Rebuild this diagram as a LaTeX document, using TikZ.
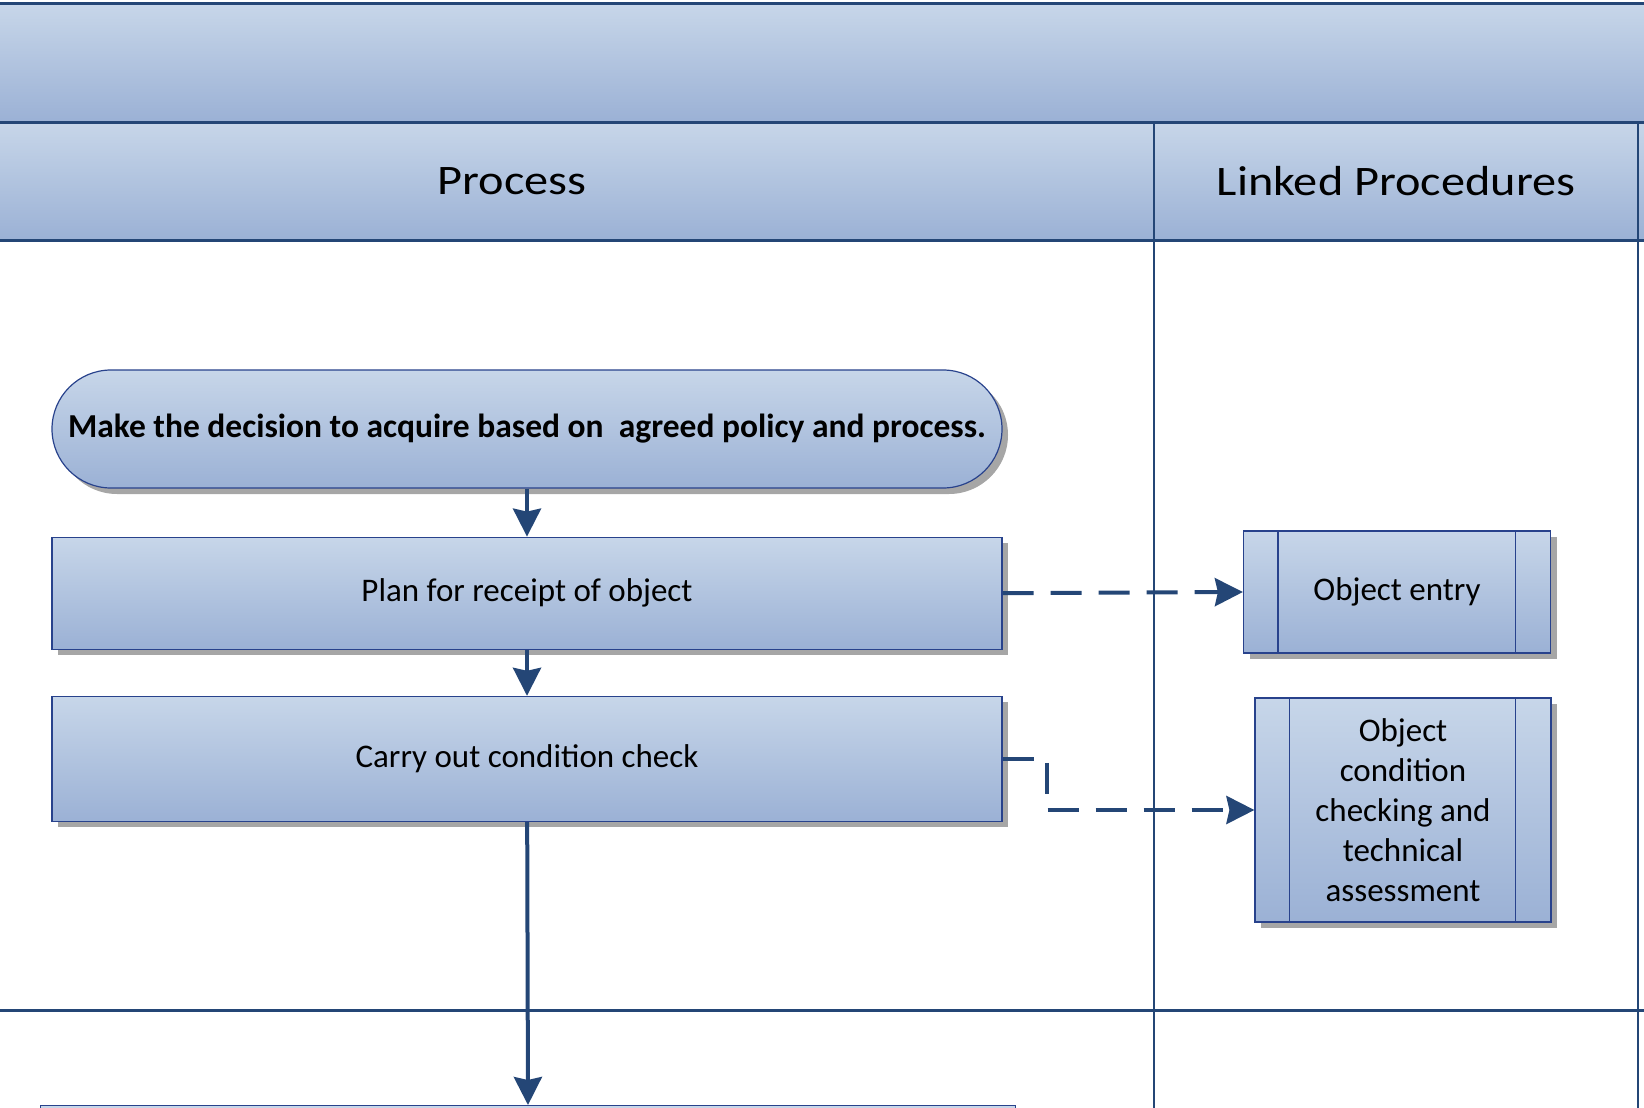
\documentclass[tikz,border=0pt]{standalone}
\usepackage{fontspec}
\setmainfont{Carlito}
\newfontfamily\hdfont[FakeStretch=1.15]{Carlito}
\usepackage{tikz}
\usetikzlibrary{positioning, arrows.meta, shadows}
\definecolor{lanecol}{RGB}{36,70,118}
\definecolor{boxline}{RGB}{40,66,140}
\definecolor{filltop}{RGB}{199,214,233}
\definecolor{fillbot}{RGB}{155,177,213}
\tikzset{
  font={\fontsize{33}{40}\selectfont},
  band/.style={top color=filltop, bottom color=fillbot},
  lanehd/.style={font={\hdfont\fontsize{42}{48}\selectfont}},
  lane/.style={draw=lanecol, line width=3pt},
  vlane/.style={draw=lanecol, line width=2.5pt},
  box/.style={draw=boxline, line width=1.2pt, top color=filltop, bottom color=fillbot,
    shape=rectangle, inner sep=0pt, align=center,
    drop shadow={shadow xshift=6pt, shadow yshift=-6pt, opacity=1, fill=black!35}},
  flow/.style={draw=lanecol, line width=4pt, -{Stealth[length=28pt,width=28pt,inset=3pt]}},
  link/.style={flow, dash pattern=on 31pt off 17pt}}

\begin{document}
\begin{tikzpicture}[x=1pt, y=-1pt]
  \useasboundingbox (0,0) rectangle (1644,1108);
  \clip (0,0) rectangle (1644,1108);
  % header bands
  \shade[band] (0,4) rectangle (1644,122);
  \shade[band] (0,122) rectangle (1644,240);
  \node (proc) [lanehd] at (512,181) {Process};
  \node (lp) [lanehd] at (1396,181) {Linked Procedures};
  \draw[lane] (0,4) -- (1644,4);
  \draw[lane] (0,122) -- (1644,122);
  \draw[lane] (0,240) -- (1644,240);
  \draw[lane] (0,1010) -- (1644,1010);
  \draw[vlane] (1154,122) -- (1154,1108);
  \draw[vlane] (1638,122) -- (1638,1108);

  % process column
  \node (dec) [box, rounded corners=59pt, minimum width=950pt, minimum height=118pt]
    at (527,429) {\fontsize{33.5}{40}\selectfont\bfseries Make the decision to acquire based on\ \ agreed policy and process.};
  \node (plan) [box, minimum width=950pt, minimum height=112pt, below=48pt of dec] {Plan for receipt of object};
  \node (chk) [box, minimum width=950pt, minimum height=125pt, below=46pt of plan] {Carry out condition check};
  \node (nxt) [box, minimum width=975pt, minimum height=80pt, anchor=north west] at (40,1105) {};

  % linked procedures
  \node (oe) [box, minimum width=307pt, minimum height=122pt] at (1397,592) {Object entry};
  \node (oc) [box, minimum width=296pt, minimum height=224pt] at (1403,810)
    {Object\\condition\\checking and\\technical\\assessment};
  \draw[boxline, line width=1.2pt] ([xshift=35pt]oe.north west) -- ([xshift=35pt]oe.south west);
  \draw[boxline, line width=1.2pt] ([xshift=-36pt]oe.north east) -- ([xshift=-36pt]oe.south east);
  \draw[boxline, line width=1.2pt] ([xshift=35pt]oc.north west) -- ([xshift=35pt]oc.south west);
  \draw[boxline, line width=1.2pt] ([xshift=-36pt]oc.north east) -- ([xshift=-36pt]oc.south east);

  \draw[flow] (dec) -- (plan);
  \draw[flow] (plan) -- (chk);
  \draw[flow] (chk) -- (nxt);
  \draw[link] (plan.east) -- (oe.west);
  \draw[link] (chk.east) -- ++(44,0) |- (oc.west);
\end{tikzpicture}
\end{document}
